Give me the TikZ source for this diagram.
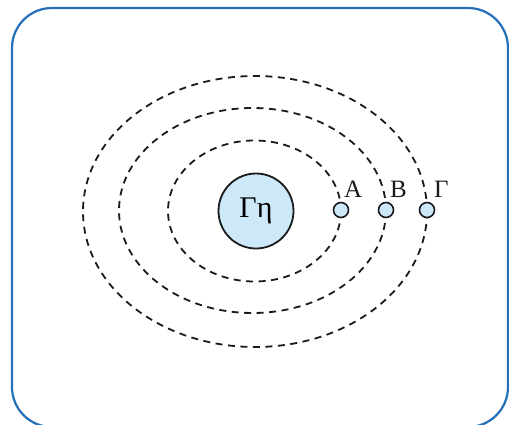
\documentclass[tikz,border=0pt]{standalone}
\usepackage{fontspec}
\setmainfont{Liberation Serif}
\usepackage{xcolor}
\usetikzlibrary{positioning}
\definecolor{frameblue}{HTML}{2470B8}
\definecolor{shell}{HTML}{1A1A1A}
\definecolor{ballfill}{HTML}{CDE8F8}
\tikzset{
  frame/.style    = {draw=frameblue, line width=2.2pt, rounded corners=40pt},
  orbit/.style    = {draw=shell, line width=1.8pt, dash pattern=on 7pt off 5.5pt},
  nucleus/.style  = {circle, draw=shell, fill=ballfill, line width=1.8pt, minimum size=75pt,
                     inner sep=0pt, font=\fontsize{30}{32}\selectfont},
  electron/.style = {circle, draw=shell, fill=ballfill, line width=1.6pt, minimum size=15pt,
                     inner sep=0pt},
  tag/.style      = {font=\fontsize{25}{27}\selectfont, text=shell, inner sep=0pt},
}
\begin{document}
\begin{tikzpicture}[x=1pt, y=-1pt]
  \useasboundingbox (0,0) rectangle (509,425);
  \draw[frame] (12,8) rectangle (508,427);

  % orbits
  \draw[orbit] (254.5,211) ellipse [x radius=86.5, y radius=70.5];
  \draw[orbit] (252.5,210.5) ellipse [x radius=133.5, y radius=102.5];
  \draw[orbit] (255,211.5) ellipse [x radius=172, y radius=135.5];

  \node[nucleus] (core) at (256,211) {Γη};

  \node[electron] (eA) at (341,210) {};
  \node[electron] (eB) at (386,210) {};
  \node[electron] (eC) at (427,210) {};

  \node[tag, above right=6pt and -3pt of eA] (tA) {A};
  \node[tag, above right=6pt and -2pt of eB] (tB) {B};
  \node[tag, above right=6pt and 1pt of eC] (tC) {Γ};
\end{tikzpicture}
\end{document}
